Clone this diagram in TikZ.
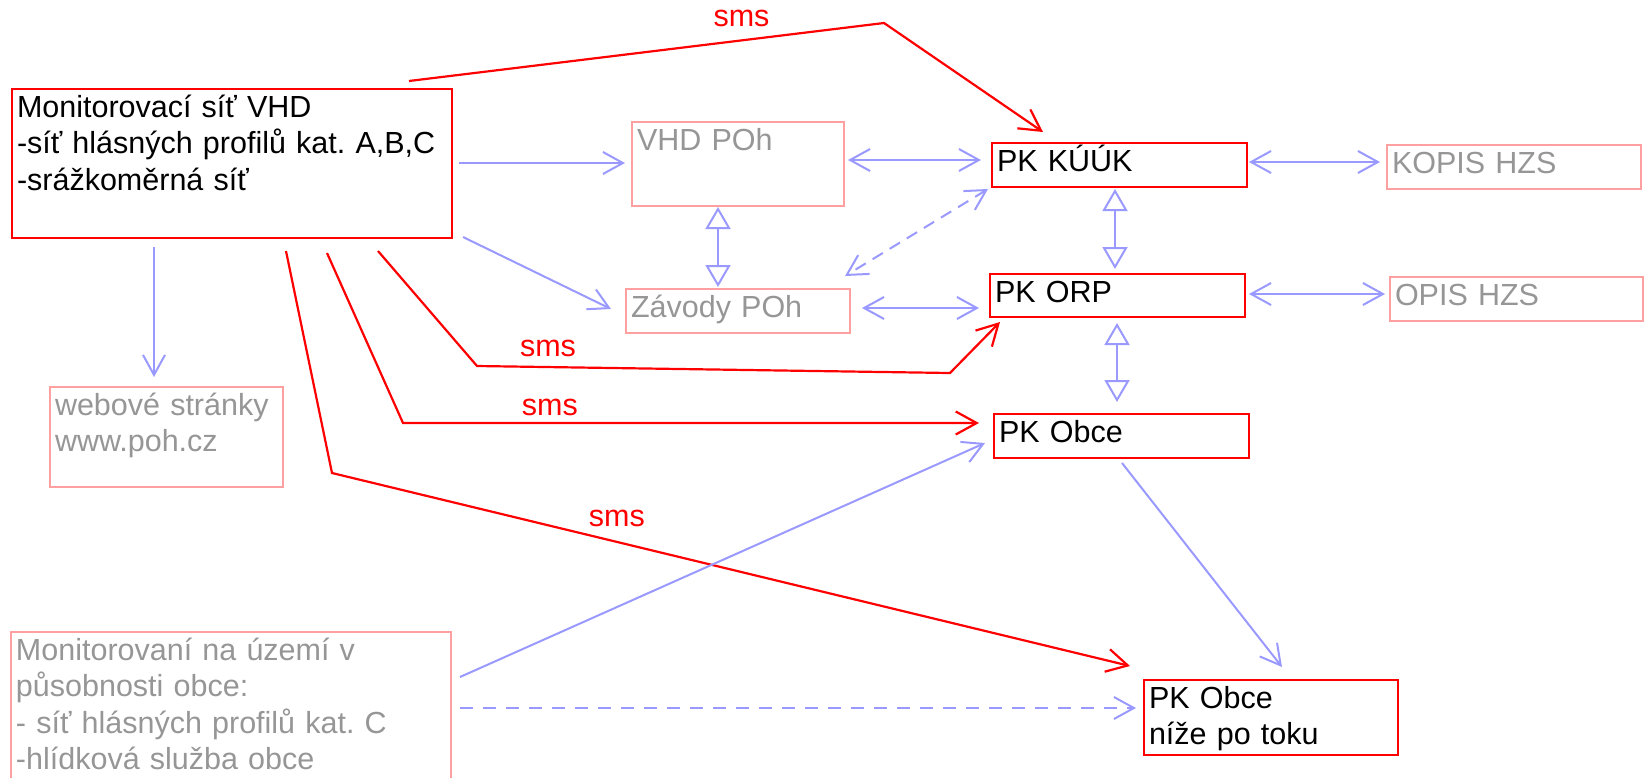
\documentclass[tikz,border=0pt]{standalone}
\usepackage{fontspec}
\setmainfont{Liberation Sans}
\usepackage{xcolor}
\usetikzlibrary{arrows.meta}
\frenchspacing

\definecolor{hlred}{RGB}{255,0,0}
\definecolor{linkblue}{RGB}{153,153,255}
\definecolor{softred}{RGB}{255,160,160}
\definecolor{softgray}{RGB}{150,150,150}

\begin{document}
\begin{tikzpicture}
		[x=1pt,y=-1pt,
		every node/.style={font=\fontsize{30.5}{36.6}\selectfont},
		blk/.style={anchor=north west,align=left,inner xsep=5pt,inner ysep=0pt,text height=28pt,line width=2pt},
		main/.style={blk,draw=hlred,text=black},
		side/.style={blk,draw=softred,text=softgray},
		sms/.style={text=hlred,inner sep=0pt,anchor=south},
		red link/.style={color=hlred,line width=2.2pt,-{Straight Barb[length=21pt,width=23pt]}},
		blue link/.style={color=linkblue,line width=2pt,-{Straight Barb[length=20pt,width=22pt]}},
		both link/.style={color=linkblue,line width=2pt,{Straight Barb[length=20pt,width=22pt]}-{Straight Barb[length=20pt,width=22pt]}},
		tri link/.style={color=linkblue,line width=2pt,{Triangle[open,length=22pt,width=25pt]}-{Triangle[open,length=22pt,width=25pt]}}]
		\useasboundingbox (0,0) rectangle (1644,777);
		\node[main,text width=430pt,text depth=121pt] (mon) at (11,88) {Monitorovací síť VHD\\-síť hlásných profilů kat. A,B,C\\-srážkoměrná síť};
		\node[side,text width=202pt,text depth=56pt] (vhd) at (631,121) {VHD POh};
		\node[main,text width=245pt,text depth=16pt] (kuuk) at (991,142) {PK KÚÚK};
		\node[side,text width=244pt,text depth=16pt] (kopis) at (1386,144) {KOPIS HZS};
		\node[side,text width=214pt,text depth=16pt] (zav) at (625,288) {Závody POh};
		\node[main,text width=245pt,text depth=15pt] (orp) at (989,273) {PK ORP};
		\node[side,text width=243pt,text depth=16pt] (opis) at (1389,276) {OPIS HZS};
		\node[side,text width=223pt,text depth=72pt] (web) at (49,386) {webové stránky\\www.poh.cz};
		\node[main,text width=245pt,text depth=16pt] (obce) at (993,413) {PK Obce};
		\node[side,text width=430pt,text depth=132pt] (mobce) at (10,631) {Monitorovaní na území v\\působnosti obce:\\- síť hlásných profilů kat. C\\-hlídková služba obce};
		\node[main,text width=244pt,text depth=47pt] (nize) at (1143,679) {PK Obce\\níže po toku};

		% sms
		\draw[red link] ([shift={(398,-7)}]mon.north west) -- node[sms,pos=0.7,above=13pt] {sms} (884,23) -- ([shift={(52,-10)}]kuuk.north west);
		\draw[red link] ([shift={(367,163)}]mon.north west) -- (477,366) -- node[sms,pos=0.15,above=9pt] {sms} (950,373) -- ([shift={(11,49)}]orp.north west);
		\draw[red link] ([shift={(316,165)}]mon.north west) -- (403,423) -- node[sms,pos=0.255,above=6pt] {sms} ([shift={(-14,10)}]obce.north west);
		\draw[red link] ([shift={(275,163)}]mon.north west) -- (332,473) -- node[sms,pos=0.357,above=14pt] {sms} ([shift={(-13,-13)}]nize.north west);

		\path[blue link]
		([shift={(448,75)}]mon.north west) edge ([shift={(-6,42)}]vhd.north west)
		([shift={(452,149)}]mon.north west) edge ([shift={(-14,21)}]zav.north west)
		([shift={(143,159)}]mon.north west) edge ([shift={(105,-9)}]web.north west)
		([shift={(450,46)}]mobce.north west) edge ([shift={(-8,30)}]obce.north west)
		([shift={(450,77)}]mobce.north west) edge[dash pattern=on 13pt off 10pt] ([shift={(-7,29)}]nize.north west)
		([shift={(129,50)}]obce.north west) edge ([shift={(139,-12)}]nize.north west)
		;
		\path[both link]
		([shift={(217,39)}]vhd.north west) edge ([shift={(-10,18)}]kuuk.north west)
		([shift={(237,20)}]zav.north west) edge ([shift={(-10,35)}]orp.north west)
		([shift={(258,20)}]kuuk.north west) edge ([shift={(-6,18)}]kopis.north west)
		([shift={(260,21)}]orp.north west) edge ([shift={(-4,18)}]opis.north west)
		([shift={(-3,47)}]kuuk.north west) edge[dash pattern=on 12pt off 8pt] ([shift={(220,-12)}]zav.north west)
		;
		\path[tri link]
		([shift={(87,86)}]vhd.north west) edge ([shift={(93,-1)}]zav.north west)
		([shift={(124,47)}]kuuk.north west) edge ([shift={(126,-4)}]orp.north west)
		([shift={(128,50)}]orp.north west) edge ([shift={(124,-11)}]obce.north west)
		;
\end{tikzpicture}
\end{document}
